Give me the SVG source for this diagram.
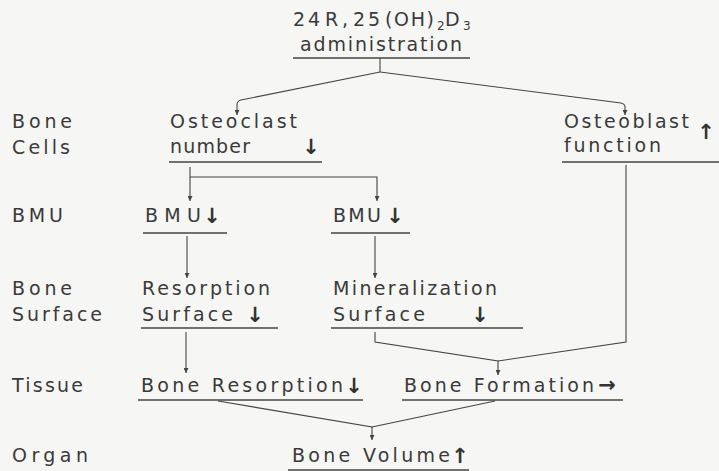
<svg xmlns="http://www.w3.org/2000/svg" width="719" height="471" viewBox="0 0 719 471">
<style>
text{font-family:"DejaVu Sans","Liberation Sans",sans-serif;font-size:19px;fill:#3a3a3a}
.sub{font-size:12px}
.ar{font-family:"DejaVu Sans","Liberation Sans",sans-serif;font-weight:bold;font-size:21px;fill:#333}
.ul{stroke:#444;stroke-width:1.3;fill:none}
.cn{stroke:#444;stroke-width:1.1;fill:none}
</style>
<defs>
<marker id="ah" viewBox="0 0 10 10" refX="10" refY="5" markerWidth="8" markerHeight="5" markerUnits="userSpaceOnUse" orient="auto">
<path d="M0,0 L10,5 L0,10 Z" fill="#444"/>
</marker>
</defs>
<rect width="719" height="471" fill="#f6f6f4"/>

<g id="level-labels">
<text x="12" y="128" textLength="60" lengthAdjust="spacing">Bone</text>
<text x="12" y="154" textLength="58" lengthAdjust="spacing">Cells</text>
<text x="12" y="222" textLength="51" lengthAdjust="spacing">BMU</text>
<text x="12" y="295" textLength="60" lengthAdjust="spacing">Bone</text>
<text x="12" y="321" textLength="90" lengthAdjust="spacing">Surface</text>
<text x="12" y="392" textLength="71" lengthAdjust="spacing">Tissue</text>
<text x="12" y="462" textLength="76" lengthAdjust="spacing">Organ</text>
</g>

<g id="administration">
<text y="26"><tspan x="293" textLength="27" lengthAdjust="spacing">24</tspan><tspan x="325" textLength="23" lengthAdjust="spacing">R,</tspan><tspan x="353" textLength="27" lengthAdjust="spacing">25</tspan><tspan x="385" textLength="49" lengthAdjust="spacing">(OH)</tspan><tspan x="437" dy="4" class="sub">2</tspan><tspan x="445" dy="-4">D</tspan><tspan x="463" dy="4" class="sub">3</tspan></text>
<text x="300" y="51" textLength="162" lengthAdjust="spacing">administration</text>
<line class="ul" x1="293" y1="58" x2="470" y2="58"/>
</g>

<g id="osteoclast">
<text x="170" y="128" textLength="127" lengthAdjust="spacing">Osteoclast</text>
<text x="170" y="153" textLength="80" lengthAdjust="spacing">number</text>
<text class="ar" x="311" y="154" text-anchor="middle">↓</text>
<line class="ul" x1="169" y1="162" x2="322" y2="162"/>
</g>

<g id="osteoblast">
<text x="564" y="128" textLength="125" lengthAdjust="spacing">Osteoblast</text>
<text x="564" y="152" textLength="97" lengthAdjust="spacing">function</text>
<text class="ar" x="706" y="139" text-anchor="middle">↑</text>
<line class="ul" x1="562" y1="162" x2="719" y2="162"/>
</g>

<g id="bmu-left">
<text x="145" y="222" textLength="56" lengthAdjust="spacing">BMU</text>
<text class="ar" x="212" y="223" text-anchor="middle">↓</text>
<line class="ul" x1="143" y1="233" x2="227" y2="233"/>
</g>

<g id="bmu-right">
<text x="333" y="222" textLength="48" lengthAdjust="spacing">BMU</text>
<text class="ar" x="395" y="223" text-anchor="middle">↓</text>
<line class="ul" x1="331" y1="233" x2="410" y2="233"/>
</g>

<g id="resorption-surface">
<text x="142" y="295" textLength="128" lengthAdjust="spacing">Resorption</text>
<text x="142" y="321" textLength="91" lengthAdjust="spacing">Surface</text>
<text class="ar" x="255" y="322" text-anchor="middle">↓</text>
<line class="ul" x1="141" y1="328" x2="278" y2="328"/>
</g>

<g id="mineralization-surface">
<text x="333" y="295" textLength="164" lengthAdjust="spacing">Mineralization</text>
<text x="333" y="321" textLength="92" lengthAdjust="spacing">Surface</text>
<text class="ar" x="480" y="322" text-anchor="middle">↓</text>
<line class="ul" x1="331" y1="328" x2="523" y2="328"/>
</g>

<g id="bone-resorption">
<text x="141" y="392" textLength="202" lengthAdjust="spacing">Bone Resorption</text>
<text class="ar" x="354" y="393" text-anchor="middle">↓</text>
<line class="ul" x1="138" y1="400" x2="363" y2="400"/>
</g>

<g id="bone-formation">
<text x="404" y="392" textLength="190" lengthAdjust="spacing">Bone Formation</text>
<text class="ar" x="607" y="392" text-anchor="middle">→</text>
<line class="ul" x1="402" y1="400" x2="623" y2="400"/>
</g>

<g id="bone-volume">
<text x="292" y="462" textLength="158" lengthAdjust="spacing">Bone Volume</text>
<text class="ar" x="460" y="463" text-anchor="middle">↑</text>
<line class="ul" x1="288" y1="470" x2="469" y2="470"/>
</g>

<g id="connectors">
<line class="cn" x1="380" y1="58" x2="380" y2="72"/>
<path class="cn" d="M380,72 L241,100 Q237,101 237,105 L237,115" marker-end="url(#ah)"/>
<path class="cn" d="M380,72 L621,103 Q625,104 625,107 L625,115" marker-end="url(#ah)"/>
<line class="cn" x1="190" y1="167" x2="190" y2="201" marker-end="url(#ah)"/>
<path class="cn" d="M190,177 L377,177 L377,201" marker-end="url(#ah)"/>
<line class="cn" x1="187" y1="236" x2="187" y2="278" marker-end="url(#ah)"/>
<line class="cn" x1="375" y1="236" x2="375" y2="278" marker-end="url(#ah)"/>
<line class="cn" x1="186" y1="332" x2="186" y2="373" marker-end="url(#ah)"/>
<path class="cn" d="M375,332 L375,342 L498,361 L498,375" marker-end="url(#ah)"/>
<path class="cn" d="M626,165 L626,342 L498,361"/>
<path class="cn" d="M218,401 L372,427 L372,440" marker-end="url(#ah)"/>
<line class="cn" x1="495" y1="401" x2="372" y2="427"/>
</g>
</svg>
